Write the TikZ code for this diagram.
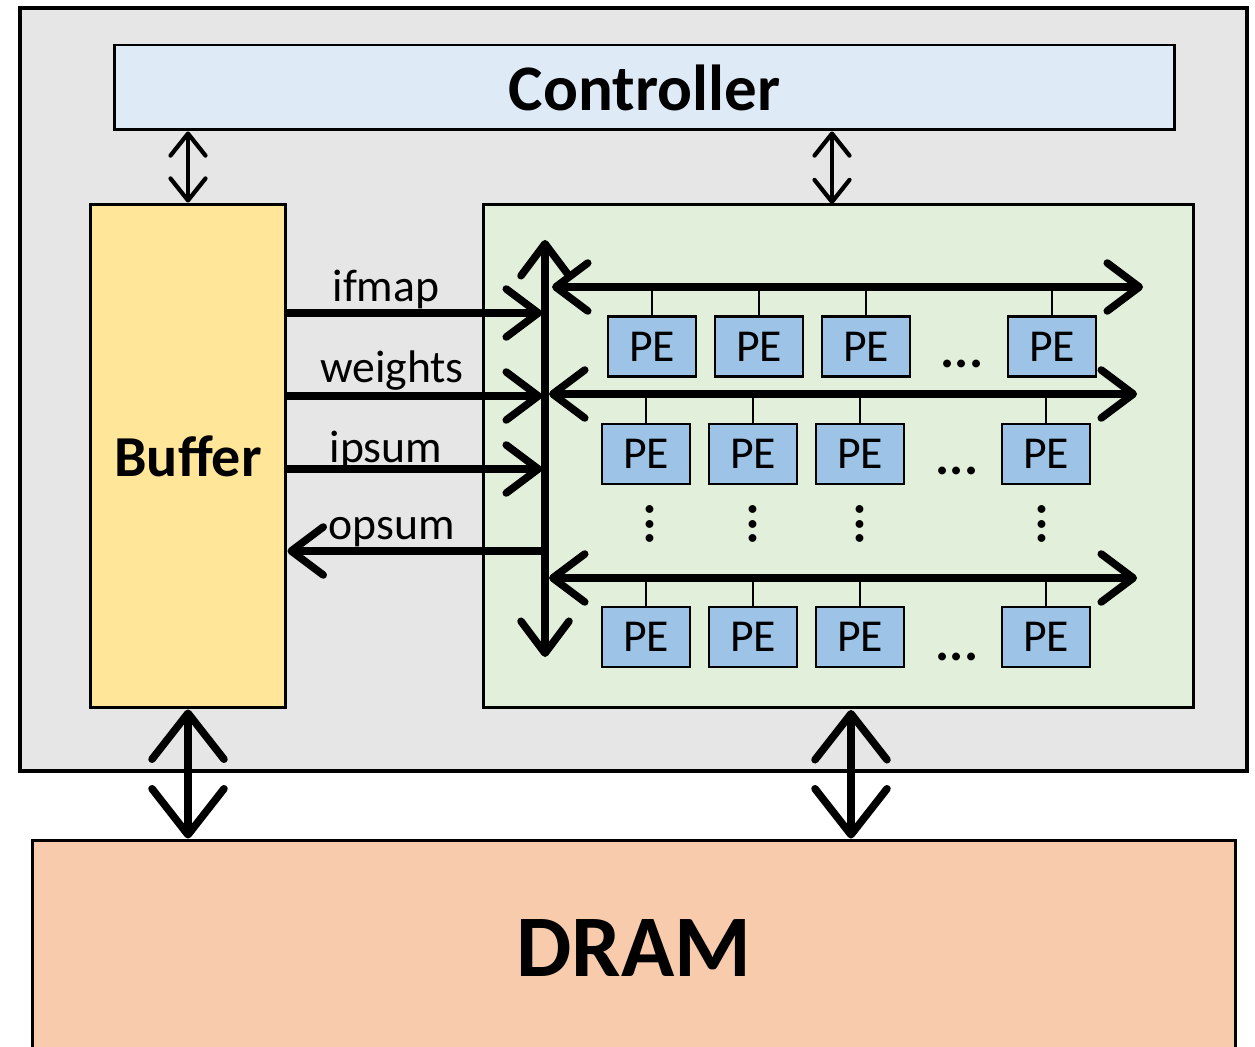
\documentclass[tikz,border=0pt]{standalone}
\usepackage{fontspec}
\setmainfont{Carlito}
\usetikzlibrary{arrows.meta}
\definecolor{chipgray}{HTML}{E6E6E6}
\definecolor{ctrlblue}{HTML}{DEEBF7}
\definecolor{bufyellow}{HTML}{FFE699}
\definecolor{arrgreen}{HTML}{E2EFDA}
\definecolor{dramred}{HTML}{F8CBAD}
\definecolor{peblue}{HTML}{9DC3E6}
\tikzset{
line join=round, % All corners round
>={Straight Barb[length=0.64cm,width=0.96cm,round]}, % open barbs everywhere
block/.style={draw,line width=1.7pt,inner sep=0pt},
pe/.style={draw,line width=1.3pt,fill=peblue,minimum width=1.76cm,minimum height=1.2cm,
  inner sep=0pt,font=\fontsize{26}{28}\selectfont},
bus/.style={line width=4.3pt},
stub/.style={line width=1.6pt},
ctrl link/.style={line width=2.4pt,>={Straight Barb[length=0.44cm,width=0.7cm,round]},<->},
mem link/.style={line width=4.3pt,>={Straight Barb[length=0.92cm,width=1.44cm,round]},<->},
lbl/.style={anchor=base,inner sep=0pt,font=\fontsize{26}{28}\selectfont},
dots/.style={anchor=base,inner sep=0pt,font=\fontsize{30}{32}\selectfont\bfseries},
}

\begin{document}
\begin{tikzpicture}[x=0.02cm,y=-0.02cm]
\useasboundingbox (0,0) rectangle (1255,1047);
% chip and its blocks
\node[block,line width=2.6pt,fill=chipgray,minimum width=24.54cm,minimum height=15.26cm] (chip) at (633.5,389.5) {};
\node[block,fill=ctrlblue,minimum width=21.22cm,minimum height=1.7cm,font=\fontsize{37}{40}\selectfont\bfseries] (ctrl) at (644.5,87.5) {Controller};
\node[block,fill=bufyellow,minimum width=3.92cm,minimum height=10.08cm,font=\fontsize{33}{36}\selectfont\bfseries] (buf) at (188,456) {Buffer};
\node[block,fill=arrgreen,minimum width=14.22cm,minimum height=10.08cm] (arr) at (838.5,456) {};
\node[block,fill=dramred,minimum width=24.08cm,minimum height=4.32cm,font=\fontsize{50}{54}\selectfont\bfseries] (dram) at (634,948) {DRAM};

% bus end points
\coordinate (vtop) at (545,240);
\coordinate (vbot) at (545,657);
\coordinate (row1w) at (552,287);  \coordinate (row1e) at (1143,287);
\coordinate (row2w) at (549,394);  \coordinate (row2e) at (1137,394);
\coordinate (row3w) at (549,578);  \coordinate (row3e) at (1137,578);
\coordinate (ifin) at (542,313);
\coordinate (wtin) at (542,396);
\coordinate (ipin) at (542,469);
\coordinate (opout) at (543,551);
\coordinate (arrctl) at (832,204);
\coordinate (arrmem) at (851,710);

% PE array
\foreach \r/\dx/\yy in {1/6/346.5,2/0/454,3/0/637} {
  \foreach \c/\xx in {1/646,2/753,3/860,4/1046} {
    \node[pe] (pe\r\c) at (\xx+\dx,\yy) {PE};
    \draw[stub] (pe\r\c.north) -- (pe\r\c.north |- row\r w);
  }
}
\node[dots] (hd1) at (962,368) {...};
\node[dots] (hd2) at (957,475) {...};
\node[dots] (hd3) at (957,660) {...};
\foreach \c/\xx in {1/650,2/753,3/860,4/1042}
  \node[dots,anchor=center,rotate=90] (vd\c) at (\xx,524) {...};

% buses
\draw[bus,<->] (vtop) -- (vbot);
\draw[bus,<->] (row1w) -- (row1e);
\draw[bus,<->] (row2w) -- (row2e);
\draw[bus,<->] (row3w) -- (row3e);

% buffer to array
\draw[bus,->] (buf.east |- ifin) -- (ifin);
\draw[bus,->] (buf.east |- wtin) -- (wtin);
\draw[bus,->] (buf.east |- ipin) -- (ipin);
\draw[bus,->] (opout) -- (buf.east |- opout);
\node[lbl] (ifmap) at (386,302) {ifmap};
\node[lbl] (weights) at (392,383) {weights};
\node[lbl] (ipsum) at (386,463) {ipsum};
\node[lbl] (opsum) at (392,540) {opsum};

% controller and memory links
\draw[ctrl link] (buf.north) -- (buf.north |- ctrl.south);
\draw[ctrl link] (arrctl) -- (arrctl |- ctrl.south);
\draw[mem link] (buf.south) -- (buf.south |- dram.north);
\draw[mem link] (arrmem) -- (arrmem |- dram.north);
\end{tikzpicture}
\end{document}
